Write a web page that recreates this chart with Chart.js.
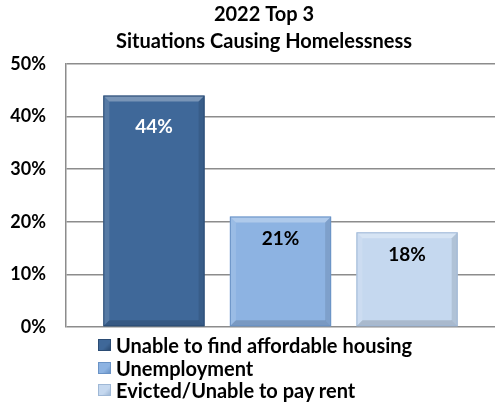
<!DOCTYPE html>
<html>
<head>
<meta charset="utf-8">
<script src="https://cdn.jsdelivr.net/npm/chart.js@4.4.1/dist/chart.umd.min.js"></script>
<style>
    html, body { margin: 0; padding: 0; background: #ffffff; }
    #wrap { position: relative; width: 495px; height: 406px; overflow: hidden; }
    #legend { position: absolute; left: 98px; top: 334px; font: bold 20px Lato, sans-serif; color: #000; }
    #legend .row { height: 22.5px; display: flex; align-items: center; }
    #legend .box { width: 13px; height: 12px; margin-right: 5px; box-sizing: border-box; }
</style>
</head>
<body>
<div id="wrap">
    <canvas id="chart" width="495" height="406"></canvas>
    <div id="legend"></div>
</div>
<script>
const titleLines = ['2022 Top 3', 'Situations Causing Homelessness'];
const categories = [''];
const seriesNames = ['Unable to find affordable housing', 'Unemployment', 'Evicted/Unable to pay rent'];
const seriesValues = [[44], [21], [18]];
const yTicks = [0, 10, 20, 30, 40, 50];

const fills = ['#3f6899', '#8db3e2', '#c5d8ef'];
const edges = ['#2b4c74', '#6a93c6', '#9fb8d6'];
const labelColors = ['#ffffff', '#000000', '#000000'];
const labelOffsets = [31, 22, 23];

const FONT = 'Lato, sans-serif';

// the title sits centred on the right part of the chart, not the whole width
const titleShift = {
    id: 'titleShift',
    afterLayout(chart) {
        if (chart.titleBlock) chart.titleBlock.left = 33;
    }
};

// bevel look + value labels on each bar
const bevelBars = {
    id: 'bevelBars',
    afterDatasetsDraw(chart) {
        const ctx = chart.ctx;
        chart.data.datasets.forEach((ds, i) => {
            chart.getDatasetMeta(i).data.forEach((bar, j) => {
                const p = bar.getProps(['x', 'y', 'base', 'width'], true);
                const l = p.x - p.width / 2, r = p.x + p.width / 2, t = p.y, b = p.base;
                const e = 6;
                ctx.save();
                // top
                ctx.fillStyle = 'rgba(255,255,255,0.3)';
                ctx.beginPath();
                ctx.moveTo(l, t); ctx.lineTo(r, t); ctx.lineTo(r - e, t + e); ctx.lineTo(l + e, t + e); ctx.closePath();
                ctx.fill();
                // left
                ctx.fillStyle = 'rgba(255,255,255,0.12)';
                ctx.beginPath();
                ctx.moveTo(l, t); ctx.lineTo(l + e, t + e); ctx.lineTo(l + e, b - e); ctx.lineTo(l, b); ctx.closePath();
                ctx.fill();
                // right
                ctx.fillStyle = 'rgba(0,0,0,0.1)';
                ctx.beginPath();
                ctx.moveTo(r, t); ctx.lineTo(r - e, t + e); ctx.lineTo(r - e, b - e); ctx.lineTo(r, b); ctx.closePath();
                ctx.fill();
                // bottom
                ctx.fillStyle = 'rgba(0,0,0,0.14)';
                ctx.beginPath();
                ctx.moveTo(l, b); ctx.lineTo(l + e, b - e); ctx.lineTo(r - e, b - e); ctx.lineTo(r, b); ctx.closePath();
                ctx.fill();
                ctx.strokeStyle = edges[i];
                ctx.lineWidth = 1;
                ctx.strokeRect(l + 0.5, t + 0.5, p.width - 1, b - t - 1);

                ctx.fillStyle = labelColors[i];
                ctx.font = 'bold 19px ' + FONT;
                ctx.textAlign = 'center';
                ctx.textBaseline = 'middle';
                ctx.fillText(ds.data[j] + '%', p.x, t + labelOffsets[i]);
                ctx.restore();
            });
        });
    }
};

new Chart(document.getElementById('chart'), {
    type: 'bar',
    data: {
        labels: categories,
        datasets: seriesNames.map((name, i) => ({
            label: name,
            data: seriesValues[i],
            backgroundColor: fills[i],
            borderWidth: 0,
            categoryPercentage: 0.885,
            barPercentage: 0.8
        }))
    },
    options: {
        responsive: false,
        animation: false,
        layout: { padding: { left: 0, right: 0, top: 0, bottom: 79 } },
        plugins: {
            legend: { display: false },
            tooltip: { enabled: false },
            title: {
                display: true,
                text: titleLines,
                color: '#000',
                font: { family: FONT, size: 20, weight: 'bold', lineHeight: 1.35 },
                padding: { top: 1, bottom: 9 }
            }
        },
        scales: {
            x: { display: false },
            y: {
                min: 0,
                max: 50,
                afterBuildTicks(scale) { scale.ticks = yTicks.map(v => ({ value: v })); },
                afterFit(scale) { scale.width = 66; },
                grid: { color: '#8c8c8c', lineWidth: 1.5, drawTicks: false },
                border: { display: true, color: '#8c8c8c', width: 1.5 },
                ticks: {
                    color: '#000',
                    padding: 20,
                    font: { family: FONT, size: 18, weight: 'bold' },
                    callback: v => v + '%'
                }
            }
        }
    },
    plugins: [titleShift, bevelBars]
});

// legend below the plot
const legend = document.getElementById('legend');
seriesNames.forEach((name, i) => {
    const row = document.createElement('div');
    row.className = 'row';
    const box = document.createElement('span');
    box.className = 'box';
    box.style.background = 'linear-gradient(135deg, ' + fills[i] + ' 0%, ' + fills[i] + ' 60%, ' + edges[i] + ' 100%)';
    box.style.border = '1px solid ' + edges[i];
    row.appendChild(box);
    row.appendChild(document.createTextNode(name));
    legend.appendChild(row);
});
</script>
</body>
</html>
